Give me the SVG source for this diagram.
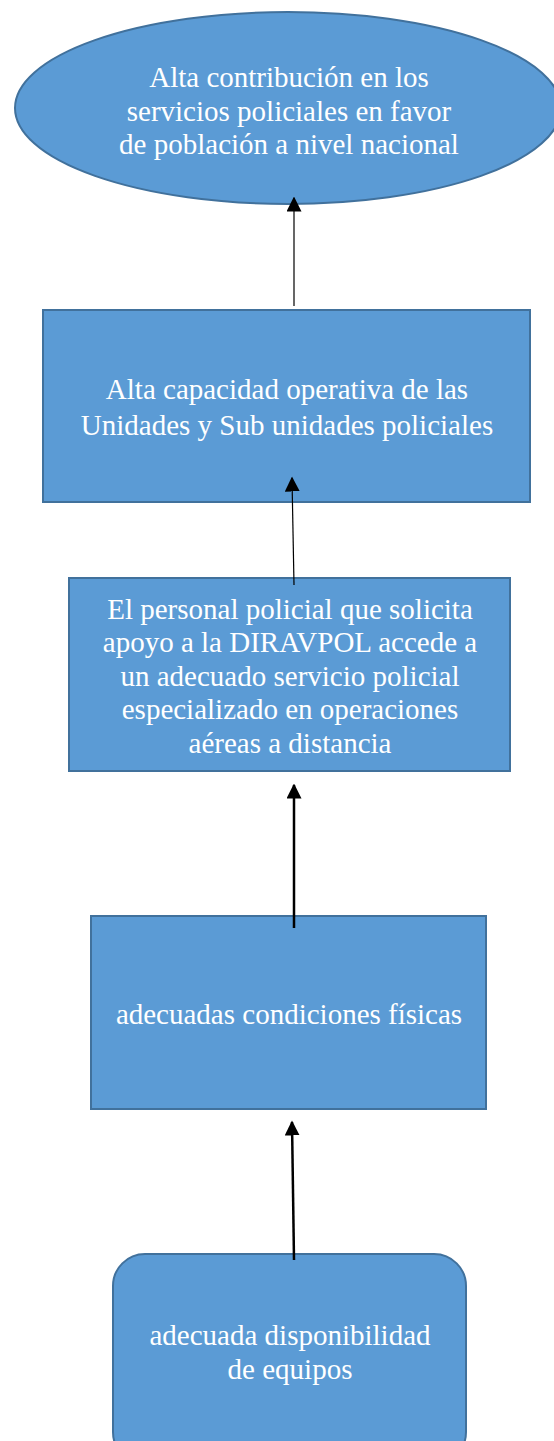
<svg xmlns="http://www.w3.org/2000/svg" width="554" height="1441" viewBox="0 0 554 1441">
<style>
.n{fill:#5B9BD5;stroke:#41719C;stroke-width:2}
.t{font-family:"Liberation Serif","Times New Roman",serif;font-size:29px;fill:#fff;text-anchor:middle}
.c{stroke:#000;fill:none}
</style>
<defs>
<marker id="ah" viewBox="0 0 10 10" refX="9" refY="5" markerWidth="15" markerHeight="15" markerUnits="userSpaceOnUse" orient="auto">
<path d="M0,0 L10,5 L0,10 Z" fill="#000"/>
</marker>
</defs>
<rect width="554" height="1441" fill="#fff"/>
<g id="n1">
<ellipse class="n" cx="288" cy="108" rx="273" ry="96"/>
<text class="t" x="289" y="87">Alta contribución en los</text>
<text class="t" x="289" y="121">servicios policiales en favor</text>
<text class="t" x="289" y="154">de población a nivel nacional</text>
</g>
<g id="n2">
<rect class="n" x="43" y="310" width="487" height="192"/>
<text class="t" x="287" y="399">Alta capacidad operativa de las</text>
<text class="t" x="287" y="435">Unidades y Sub unidades policiales</text>
</g>
<g id="n3">
<rect class="n" x="69" y="578" width="441" height="193"/>
<text class="t" x="290" y="619">El personal policial que solicita</text>
<text class="t" x="290" y="652">apoyo a la DIRAVPOL accede a</text>
<text class="t" x="290" y="686">un adecuado servicio policial</text>
<text class="t" x="290" y="719">especializado en operaciones</text>
<text class="t" x="290" y="753">aéreas a distancia</text>
</g>
<g id="n4">
<rect class="n" x="91" y="916" width="395" height="193"/>
<text class="t" x="289" y="1024">adecuadas condiciones físicas</text>
</g>
<g id="n5">
<rect class="n" x="113" y="1254" width="353" height="210" rx="32" ry="32"/>
<text class="t" x="290" y="1345">adecuada disponibilidad</text>
<text class="t" x="290" y="1379">de equipos</text>
</g>
<g id="connectors">
<line class="c" x1="294" y1="306" x2="294" y2="198" stroke-width="1.2" stroke="#333" marker-end="url(#ah)"/>
<line class="c" x1="294" y1="585" x2="292" y2="478" stroke-width="1.2" marker-end="url(#ah)"/>
<line class="c" x1="294" y1="928" x2="294" y2="785" stroke-width="2.5" marker-end="url(#ah)"/>
<line class="c" x1="294" y1="1260" x2="292" y2="1122" stroke-width="2.5" marker-end="url(#ah)"/>
</g>
</svg>
